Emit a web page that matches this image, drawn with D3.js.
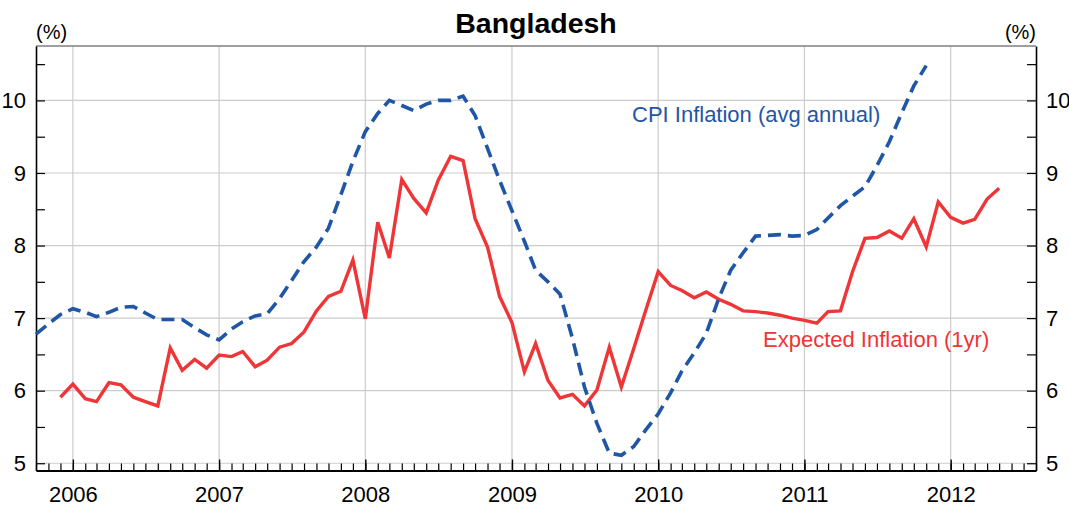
<!DOCTYPE html>
<html>
<head>
<meta charset="utf-8">
<script src="https://cdn.jsdelivr.net/npm/d3@7"></script>
<style>
  html, body { margin: 0; padding: 0; background: #fff; }
  svg { display: block; font-family: "Liberation Sans", Arial, sans-serif; }
</style>
</head>
<body>
<div id="chart"></div>
<script>
const d3 = window.d3;

// CPI inflation (avg annual), monthly Oct 2005 - Nov 2011
const cpiStart = new Date(2005, 9, 1);
const cpiValues = [
  6.78, 6.92, 7.05,
  7.13, 7.08, 7.02, 7.08, 7.15, 7.16, 7.07, 6.98, 6.98, 6.98, 6.87, 6.77,
  6.70, 6.85, 6.95, 7.03, 7.06, 7.27, 7.52, 7.78, 7.98, 8.24, 8.70, 9.16,
  9.57, 9.82, 10.0, 9.93, 9.86, 9.95, 10.0, 10.0, 10.06, 9.79, 9.34, 8.90,
  8.48, 8.06, 7.66, 7.50, 7.33, 6.72, 6.05, 5.55, 5.14, 5.11, 5.23, 5.46,
  5.68, 5.97, 6.27, 6.52, 6.79, 7.27, 7.66, 7.90, 8.13, 8.14, 8.15, 8.13,
  8.14, 8.22, 8.38, 8.55, 8.68, 8.81, 9.10, 9.43, 9.83, 10.20, 10.48
];

// Expected inflation (1yr), monthly Dec 2005 - May 2012
const expStart = new Date(2005, 11, 1);
const expValues = [
  5.91,
  6.09, 5.89, 5.85, 6.11, 6.08, 5.91, 5.85, 5.79, 6.59, 6.28, 6.43, 6.31,
  6.49, 6.47, 6.54, 6.33, 6.42, 6.60, 6.65, 6.81, 7.10, 7.30, 7.37, 7.80,
  6.99, 8.32, 7.83, 8.91, 8.65, 8.45, 8.90, 9.23, 9.17, 8.37, 7.98, 7.30,
  6.94, 6.26, 6.65, 6.14, 5.90, 5.95, 5.79, 6.01, 6.60, 6.05, 6.58, 7.11,
  7.64, 7.45, 7.38, 7.28, 7.36, 7.26, 7.19, 7.10, 7.09, 7.07, 7.04, 7.00,
  6.97, 6.93, 7.09, 7.10, 7.64, 8.10, 8.11, 8.20, 8.10, 8.37, 7.98, 8.60,
  8.39, 8.31, 8.36, 8.64, 8.79
];

const yTicks = [5, 6, 7, 8, 9, 10];
const yMinorTicks = [5, 5.5, 6, 6.5, 7, 7.5, 8, 8.5, 9, 9.5, 10, 10.5];
const yearTicks = [2006, 2007, 2008, 2009, 2010, 2011, 2012];

const BLUE = "#1f56a6";
const RED = "#ee3537";
const width = 1069;
const height = 507;
const margin = { top: 46, right: 33, bottom: 36.5, left: 36 };

function toSeries(start, values) {
  return values.map((v, i) => ({ date: d3.timeMonth.offset(start, i), value: v }));
}

const cpi = toSeries(cpiStart, cpiValues);
const expected = toSeries(expStart, expValues);

const svg = d3.select("#chart").append("svg")
  .attr("width", width)
  .attr("height", height);

const x = d3.scaleTime()
  .domain([new Date(2005, 9, 1), new Date(2012, 7, 1)])
  .range([margin.left, width - margin.right]);

const y = d3.scaleLinear()
  .domain([4.9, 10.75])
  .range([height - margin.bottom, margin.top]);

const x0 = margin.left, x1 = width - margin.right;
const y0 = height - margin.bottom, y1 = margin.top;

// gridlines
svg.append("g").selectAll("line")
  .data(yTicks)
  .join("line")
  .attr("x1", x0).attr("x2", x1)
  .attr("y1", (d) => y(d)).attr("y2", (d) => y(d))
  .attr("stroke", "#cccccc").attr("stroke-width", 1.2);

svg.append("g").selectAll("line")
  .data(yearTicks)
  .join("line")
  .attr("x1", (d) => x(new Date(d, 0, 1))).attr("x2", (d) => x(new Date(d, 0, 1)))
  .attr("y1", y0).attr("y2", y1)
  .attr("stroke", "#cccccc").attr("stroke-width", 1.2);

// top border
svg.append("line")
  .attr("x1", x0).attr("x2", x1).attr("y1", y1).attr("y2", y1)
  .attr("stroke", "#7f7f7f").attr("stroke-width", 1.5);

// left axis
const leftAxis = svg.append("g")
  .attr("transform", `translate(${x0},0)`)
  .call(d3.axisLeft(y).tickValues(yMinorTicks).tickSize(-9).tickSizeOuter(0).tickPadding(10)
    .tickFormat((d) => (Number.isInteger(d) ? d : "")));

const rightAxis = svg.append("g")
  .attr("transform", `translate(${x1},0)`)
  .call(d3.axisRight(y).tickValues(yMinorTicks).tickSize(-9).tickSizeOuter(0).tickPadding(10)
    .tickFormat((d) => (Number.isInteger(d) ? d : "")));

[leftAxis, rightAxis].forEach((g) => {
  g.select(".domain").attr("stroke", "#000").attr("stroke-width", 1.6);
  g.selectAll(".tick line").attr("stroke", "#000").attr("stroke-width", 1.2);
  g.selectAll(".tick text").attr("font-size", 22).attr("fill", "#000")
    .attr("font-family", "Liberation Sans, Arial, sans-serif");
});

// bottom axis: month ticks and year ticks with labels
const monthAxis = svg.append("g")
  .attr("transform", `translate(0,${y0})`)
  .call(d3.axisBottom(x).ticks(d3.timeMonth.every(1)).tickSize(-7).tickSizeOuter(0).tickFormat(""));
monthAxis.select(".domain").remove();
monthAxis.selectAll(".tick line").attr("stroke", "#000").attr("stroke-width", 1.2);

const yearAxis = svg.append("g")
  .attr("transform", `translate(0,${y0})`)
  .call(d3.axisBottom(x).tickValues(yearTicks.map((d) => new Date(d, 0, 1)))
    .tickSize(-11).tickSizeOuter(0).tickPadding(15.5).tickFormat(d3.timeFormat("%Y")));
yearAxis.select(".domain").attr("stroke", "#000").attr("stroke-width", 2.2);
yearAxis.selectAll(".tick line").attr("stroke", "#000").attr("stroke-width", 1.4);
yearAxis.selectAll(".tick text").attr("font-size", 22).attr("fill", "#000")
  .attr("font-family", "Liberation Sans, Arial, sans-serif");

// lines
const line = d3.line()
  .x((d) => x(d.date))
  .y((d) => y(d.value));

svg.append("path")
  .datum(expected)
  .attr("d", line)
  .attr("fill", "none")
  .attr("stroke", RED)
  .attr("stroke-width", 3.4)
  .attr("stroke-linejoin", "miter");

svg.append("path")
  .datum(cpi)
  .attr("d", line)
  .attr("fill", "none")
  .attr("stroke", BLUE)
  .attr("stroke-width", 3.6)
  .attr("stroke-dasharray", "13,7");

// title and labels
svg.append("text")
  .attr("x", 536).attr("y", 33)
  .attr("text-anchor", "middle")
  .attr("font-size", 28.5).attr("font-weight", "bold")
  .text("Bangladesh");

svg.append("text")
  .attr("x", x0).attr("y", 39)
  .attr("font-size", 20)
  .text("(%)");

svg.append("text")
  .attr("x", x1).attr("y", 39)
  .attr("text-anchor", "end")
  .attr("font-size", 20)
  .text("(%)");

svg.append("text")
  .attr("x", 632).attr("y", 121.7)
  .attr("font-size", 22).attr("fill", BLUE)
  .text("CPI Inflation (avg annual)");

svg.append("text")
  .attr("x", 763).attr("y", 346.7)
  .attr("font-size", 22).attr("fill", RED)
  .text("Expected Inflation (1yr)");
</script>
</body>
</html>
